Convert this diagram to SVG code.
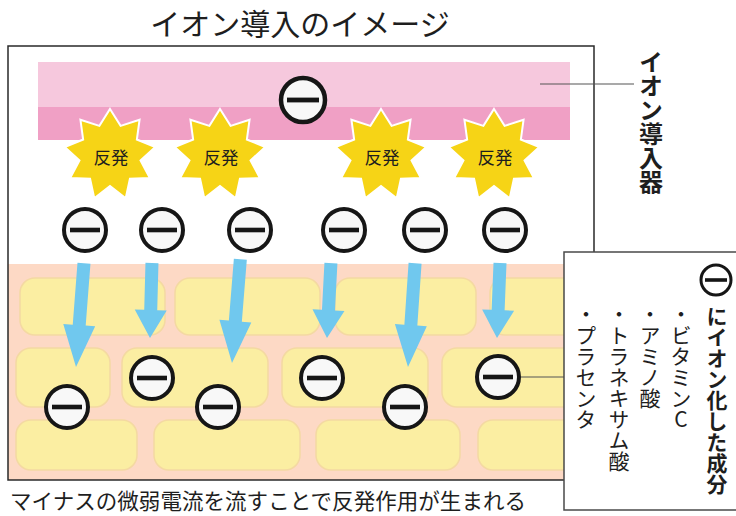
<svg xmlns="http://www.w3.org/2000/svg" xmlns:xlink="http://www.w3.org/1999/xlink" width="736" height="516" viewBox="0 0 736 516">
  <style>
    .jp { font-family: "Noto Sans CJK JP", "Noto Sans", sans-serif; fill: #1e1e1e; }
    .title { font-size: 30px; }
    .caption { font-size: 21.5px; }
    .vert { writing-mode: vertical-rl; text-orientation: upright; }
    .label { font-size: 24px; font-weight: bold; }
    .head { font-size: 21px; font-weight: bold; }
    .item { font-size: 21px; }
    .burst-text { font-size: 17.5px; text-anchor: middle; }
    .frame { fill: none; stroke: #2a2a2a; stroke-width: 1.5; }
    .cell { fill: #fbeea2; stroke: #f4d9a2; stroke-width: 1.5; }
    .burst { fill: #f6d416; stroke: #ffffff; stroke-width: 2; stroke-linejoin: miter; }
    .arrow { fill: #70c8ee; }
    .leader { stroke: #555; stroke-width: 1.2; fill: none; }
  </style>
  <defs>
    <!-- negative ion: white disc, black ring, minus bar -->
    <g id="ion">
      <circle r="21" fill="#f8f8f8" stroke="#161616" stroke-width="4"/>
      <rect x="-15" y="-2.3" width="30" height="4.6" fill="#161616"/>
    </g>
    <!-- nine-point burst -->
    <polygon id="burst" class="burst" points="0,-46 10.6,-29.13 29.57,-35.24 26.85,-15.5 45.3,-7.99 30.53,5.38 39.84,23 19.93,23.75 15.73,43.23 0,31 -15.73,43.23 -19.93,23.75 -39.84,23 -30.53,5.38 -45.3,-7.99 -26.85,-15.5 -29.57,-35.24 -10.6,-29.13"/>
    <!-- downward arrows, tip at origin -->
    <polygon id="arrowLong" class="arrow" points="0,0 16,-42 6.5,-42 6.5,-104 -6.5,-104 -6.5,-42 -16,-42"/>
    <polygon id="arrowShort" class="arrow" points="0,0 16,-28 6.5,-28 6.5,-75 -6.5,-75 -6.5,-28 -16,-28"/>
    <clipPath id="skinClip">
      <rect x="8" y="264" width="586" height="216"/>
    </clipPath>
  </defs>

  <rect width="736" height="516" fill="#ffffff"/>

  <!-- title -->
  <text class="jp title" x="300" y="35" text-anchor="middle">イオン導入のイメージ</text>

  <!-- skin layer -->
  <g id="skin">
    <rect x="8" y="264" width="586" height="216" fill="#fdd9c5"/>
    <g clip-path="url(#skinClip)">
      <rect class="cell" x="20" y="278" width="145" height="57" rx="15"/>
      <rect class="cell" x="175" y="278" width="145" height="57" rx="15"/>
      <rect class="cell" x="335" y="278" width="141" height="57" rx="15"/>
      <rect class="cell" x="490" y="278" width="130" height="57" rx="15"/>
      <rect class="cell" x="16" y="348" width="94" height="59" rx="15"/>
      <rect class="cell" x="122" y="348" width="146" height="59" rx="15"/>
      <rect class="cell" x="282" y="348" width="146" height="59" rx="15"/>
      <rect class="cell" x="442" y="348" width="160" height="59" rx="15"/>
      <rect class="cell" x="16" y="420" width="121" height="50" rx="15"/>
      <rect class="cell" x="154" y="420" width="146" height="50" rx="15"/>
      <rect class="cell" x="316" y="420" width="144" height="50" rx="15"/>
      <rect class="cell" x="478" y="420" width="130" height="50" rx="15"/>
    </g>
  </g>

  <!-- outer frame -->
  <path class="frame" d="M8,46 H594 V480 H8 Z"/>

  <!-- ion device -->
  <g id="device">
    <rect x="38" y="62" width="532" height="46" fill="#f6c8dd"/>
    <rect x="38" y="107" width="532" height="33" fill="#f0a0c5"/>
    <circle cx="303" cy="100" r="22" fill="#f8f8f8" stroke="#161616" stroke-width="4.5"/>
    <rect x="287" y="97.6" width="32" height="4.8" fill="#161616"/>
  </g>

  <!-- repulsion bursts -->
  <g id="burst1" transform="translate(110,155)">
    <use xlink:href="#burst"/>
    <text class="jp burst-text" x="1" y="9">反発</text>
  </g>
  <g id="burst2" transform="translate(220,155)">
    <use xlink:href="#burst"/>
    <text class="jp burst-text" x="1" y="9">反発</text>
  </g>
  <g id="burst3" transform="translate(381,155)">
    <use xlink:href="#burst"/>
    <text class="jp burst-text" x="1" y="9">反発</text>
  </g>
  <g id="burst4" transform="translate(494,155)">
    <use xlink:href="#burst"/>
    <text class="jp burst-text" x="1" y="9">反発</text>
  </g>

  <!-- ions above the skin -->
  <g id="ion-top-1"><use xlink:href="#ion" x="85" y="230"/></g>
  <g id="ion-top-2"><use xlink:href="#ion" x="162" y="230"/></g>
  <g id="ion-top-3"><use xlink:href="#ion" x="250" y="230"/></g>
  <g id="ion-top-4"><use xlink:href="#ion" x="344" y="230"/></g>
  <g id="ion-top-5"><use xlink:href="#ion" x="425" y="230"/></g>
  <g id="ion-top-6"><use xlink:href="#ion" x="505" y="230"/></g>

  <!-- penetration arrows -->
  <g id="connectors">
    <use xlink:href="#arrowLong" transform="translate(76,367) rotate(4.4)"/>
    <use xlink:href="#arrowShort" transform="translate(150,338) rotate(1.5)"/>
    <use xlink:href="#arrowLong" transform="translate(232,363) rotate(4.6)"/>
    <use xlink:href="#arrowShort" transform="translate(327,338) rotate(3)"/>
    <use xlink:href="#arrowLong" transform="translate(408,367) rotate(3.9)"/>
    <use xlink:href="#arrowShort" transform="translate(497,338) rotate(2.3)"/>
    <line class="leader" x1="540" y1="84" x2="634" y2="84"/>
    <line class="leader" x1="521" y1="377" x2="564" y2="377"/>
  </g>

  <!-- ions inside the skin -->
  <g id="ion-in-1"><use xlink:href="#ion" x="67" y="407"/></g>
  <g id="ion-in-2"><use xlink:href="#ion" x="152" y="378"/></g>
  <g id="ion-in-3"><use xlink:href="#ion" x="218" y="407"/></g>
  <g id="ion-in-4"><use xlink:href="#ion" x="322" y="378"/></g>
  <g id="ion-in-5"><use xlink:href="#ion" x="405" y="407"/></g>
  <g id="ion-in-6"><use xlink:href="#ion" x="498" y="377"/></g>

  <!-- device label -->
  <g id="device-label">
    <text class="jp vert label" x="651" y="50">イオン導入器</text>
  </g>

  <!-- ingredient panel -->
  <g id="ingredients">
    <rect x="564" y="252" width="180" height="258" fill="#ffffff" stroke="#4a4a4a" stroke-width="1.5"/>
    <circle cx="716" cy="280" r="15" fill="#ffffff" stroke="#161616" stroke-width="3"/>
    <rect x="705" y="278.2" width="22" height="3.6" fill="#161616"/>
    <text class="jp vert head" x="717" y="306">にイオン化した成分</text>
    <text class="jp vert item" x="681" y="304">・ビタミンC</text>
    <text class="jp vert item" x="650" y="304">・アミノ酸</text>
    <text class="jp vert item" x="619" y="304">・トラネキサム酸</text>
    <text class="jp vert item" x="586" y="304">・プラセンタ</text>
  </g>

  <!-- caption -->
  <text class="jp caption" x="10" y="509" textLength="516" lengthAdjust="spacing">マイナスの微弱電流を流すことで反発作用が生まれる</text>
</svg>
